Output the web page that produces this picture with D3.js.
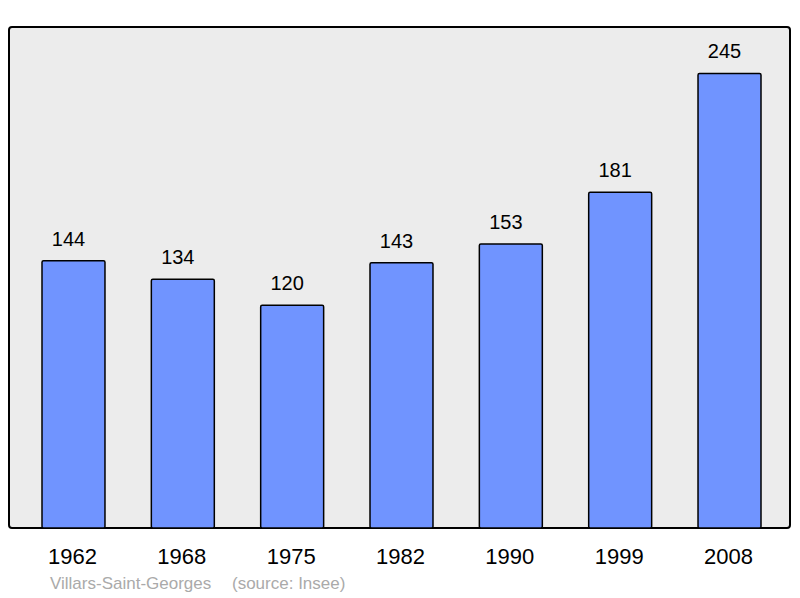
<!doctype html>
<html>
<head>
<meta charset="utf-8">
<script src="https://d3js.org/d3.v7.min.js"></script>
<style>
  body { margin: 0; background: #fff; }
  text { font-family: "Liberation Sans", Arial, sans-serif; }
</style>
</head>
<body>
<div id="chart"></div>
<script>
  // data
  var years = ["1962", "1968", "1975", "1982", "1990", "1999", "2008"];
  var population = [144, 134, 120, 143, 153, 181, 245];
  var place = "Villars-Saint-Georges";
  var source = "(source: Insee)";

  var W = 800, H = 598;
  var panel = {left: 9, top: 27, right: 790, bottom: 528};

  var svg = d3.select("#chart").append("svg")
    .attr("width", W)
    .attr("height", H);

  // background panel
  svg.append("rect")
    .attr("x", panel.left)
    .attr("y", panel.top)
    .attr("width", panel.right - panel.left)
    .attr("height", panel.bottom - panel.top)
    .attr("rx", 3)
    .style("fill", "#ececec")
    .style("stroke", "#000")
    .style("stroke-width", 2);

  var x = d3.scaleBand()
    .domain(years)
    .range([42, 761])
    .paddingInner(0.424)
    .paddingOuter(0);

  var y = d3.scaleLinear()
    .domain([0, 270])
    .range([panel.bottom, panel.top]);

  var rows = years.map(function(d, i) { return {year: d, value: population[i]}; });

  svg.selectAll("rect.bar")
    .data(rows)
    .enter()
    .append("rect")
    .attr("class", "bar")
    .attr("x", function(d) { return x(d.year); })
    .attr("y", function(d) { return y(d.value); })
    .attr("width", x.bandwidth())
    .attr("height", function(d) { return y(0) - y(d.value); })
    .attr("rx", 1.5)
    .style("fill", "#7094ff")
    .style("stroke", "#000")
    .style("stroke-width", 1.5);

  // value labels above bars
  svg.selectAll("text.val")
    .data(rows)
    .enter()
    .append("text")
    .attr("class", "val")
    .attr("text-anchor", "middle")
    .attr("x", function(d) { return x(d.year) + x.bandwidth() / 2 - 5; })
    .attr("y", function(d) { return y(d.value) - 15; })
    .style("font-size", "20px")
    .style("fill", "#000")
    .text(function(d) { return d.value; });

  // year labels (bottom axis, no line/ticks)
  var axis = svg.append("g")
    .attr("transform", "translate(0," + panel.bottom + ")")
    .call(d3.axisBottom(x).tickSize(0).tickPadding(0));
  axis.select(".domain").remove();
  axis.selectAll("text")
    .attr("dy", null)
    .attr("y", 36)
    .attr("x", -1)
    .style("font-family", "'Liberation Sans', Arial, sans-serif")
    .style("font-size", "22px")
    .style("fill", "#000");

  // footer
  svg.append("text")
    .attr("x", 50)
    .attr("y", 589)
    .style("font-size", "17px")
    .style("fill", "#aaaaaa")
    .text(place);
  svg.append("text")
    .attr("x", 232)
    .attr("y", 589)
    .style("font-size", "17px")
    .style("fill", "#aaaaaa")
    .text(source);
</script>
</body>
</html>
